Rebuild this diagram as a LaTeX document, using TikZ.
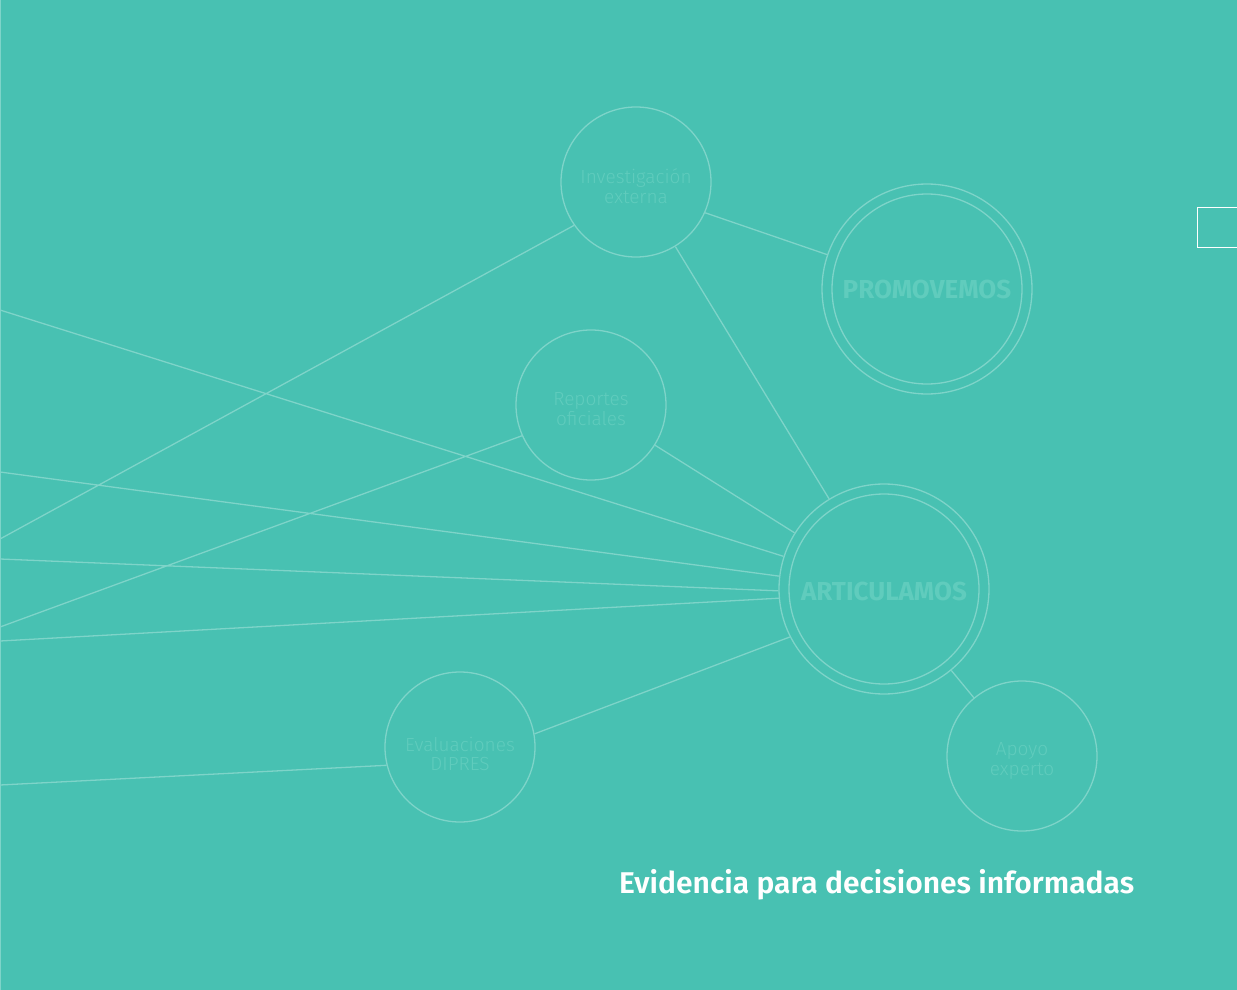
\documentclass[tikz,border=0pt]{standalone}
\usepackage{fontspec}
\setmainfont{Fira Sans}
\newfontfamily\lightfont{Fira Sans Light}
\newfontfamily\semifont{Fira Sans SemiBold}
\usepackage{tikz}
\definecolor{bgteal}{HTML}{48C1B2}
\definecolor{wire}{HTML}{7ED4C9}
\definecolor{faint}{HTML}{60CCBD}
\tikzset{
  source/.style={draw=wire, line width=1.3pt, shape=circle, inner sep=0pt,
    minimum size=150pt},
  sourcetext/.style={align=center, text=faint, inner sep=0pt,
    font=\lightfont\fontsize{19}{19.5}\selectfont},
  hub/.style={draw=wire, line width=1.3pt, shape=circle, inner sep=0pt,
    minimum size=210pt, text=faint, font=\bfseries\fontsize{26}{28}\selectfont},
  hubring/.style={draw=wire, line width=1.3pt, shape=circle, inner sep=0pt,
    minimum size=190pt},
  wires/.style={draw=wire, line width=1.3pt}
}

\begin{document}
\begin{tikzpicture}[x=1pt, y=-1pt]
    \fill[bgteal] (0,0) rectangle (1237,990);
    \useasboundingbox (0,0) rectangle (1237,990);
    \draw[wires] (0.6,0) -- (0.6,990);

    \node[source, label={[sourcetext, yshift=-4pt]center:Investigación\\externa}] (inv) at (636,182) {};
    \node[source, label={[sourcetext, yshift=-4pt]center:Reportes\\oficiales}] (rep) at (591,405) {};
    \node[source, label={[sourcetext, yshift=-7pt]center:Evaluaciones\\DIPRES}] (eva) at (460,747) {};
    \node[source, label={[sourcetext, yshift=-5pt]center:Apoyo\\experto}] (apo) at (1022,756) {};
    \node[hub] (pro) at (927,289) {PROMOVEMOS};
    \node[hubring] (pro-in) at (927,289) {};
    \node[hub, label={[text=faint, font=\bfseries\fontsize{26}{28}\selectfont, yshift=-2pt]center:ARTICULAMOS}] (art) at (884,589) {};
    \node[hubring] (art-in) at (884,589) {};

    \coordinate (l1) at (0,310);
    \coordinate (l2) at (0,472);
    \coordinate (l3) at (0,539);
    \coordinate (l4) at (0,559);
    \coordinate (l5) at (0,627);
    \coordinate (l6) at (0,641);
    \coordinate (l7) at (0,785);

    \draw[wires]
      (inv.-24) -- (pro.161)
      (inv) -- (art)
      (inv.215) -- (l3)
      (rep) -- (art)
      (rep.204) -- (l5)
      (eva.10) -- (art.207)
      (eva.194) -- (l7)
      (art) -- (apo)
      (l1) -- (art.162)
      (l2) -- (art.173)
      (l4) -- (art.181)
      (l6) -- (art.185);

    \node[text=white, font=\semifont\fontsize{30}{32}\selectfont, anchor=base west, inner sep=0pt]
      (title) at (619,893) {Evidencia para decisiones informadas};
    \node[draw=white, line width=1.5pt, minimum width=50pt, minimum height=40pt,
      anchor=north west, inner sep=0pt] (tab) at (1196.5,206.5) {};
\end{tikzpicture}
\end{document}
